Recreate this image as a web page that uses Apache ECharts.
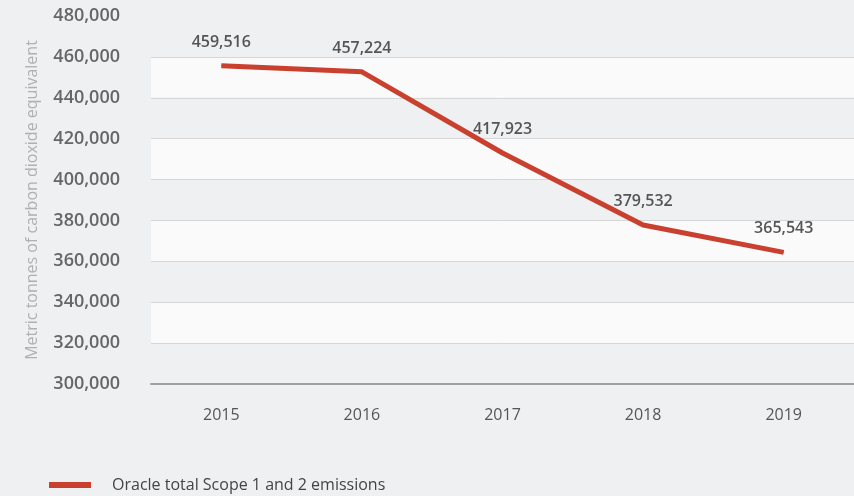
<!DOCTYPE html>
<html>
<head>
<meta charset="utf-8">
<script src="https://cdn.jsdelivr.net/npm/echarts@6/dist/echarts.min.js"></script>
<style>
  html, body { margin: 0; padding: 0; background: #eff0f2; }
  #chart { width: 854px; height: 496px; }
</style>
</head>
<body>
<div id="chart"></div>
<script>
// 年份
var years = ['2015', '2016', '2017', '2018', '2019'];
// 折线位置
var emissions = [455700, 452700, 413000, 377800, 364400];
// 数据标签文字
var labelTexts = ['459,516', '457,224', '417,923', '379,532', '365,543'];
var seriesName = 'Oracle total Scope 1 and 2 emissions';
var yName = 'Metric tonnes of carbon dioxide equivalent';

var font = '"Open Sans", "Noto Sans", sans-serif';
var red = '#c9402e';

var myChart = echarts.init(document.getElementById('chart'));
myChart.setOption({
    backgroundColor: '#eff0f2',
    animation: false,
    grid: { left: 151, right: -2, top: 16, bottom: 112 },
    legend: {
        left: 49,
        bottom: 3,
        padding: 0,
        itemWidth: 42,
        itemHeight: 6,
        icon: 'rect',
        data: [seriesName],
        textStyle: { fontFamily: font, fontSize: 16, color: '#444', padding: [0, 0, 0, 16] }
    },
    xAxis: {
        type: 'category',
        data: years,
        boundaryGap: true,
        axisLine: { lineStyle: { color: '#a0a0a0', width: 2 } },
        axisTick: { show: false },
        axisLabel: { fontFamily: font, fontSize: 16, color: '#555', margin: 23 }
    },
    yAxis: {
        type: 'value',
        min: 300000,
        max: 480000,
        interval: 20000,
        name: yName,
        nameLocation: 'middle',
        nameGap: 111,
        nameTextStyle: { fontFamily: font, fontSize: 16, color: '#b0b0b0' },
        axisLine: { show: false },
        axisTick: { show: false },
        axisLabel: {
            fontFamily: font, fontSize: 18, fontWeight: 600, color: '#666', margin: 31,
            formatter: function (v) { return v.toLocaleString('en-US'); }
        },
        splitLine: {
            lineStyle: {
                color: ['#d6d6d6', '#d6d6d6', '#d6d6d6', '#d6d6d6', '#d6d6d6',
                        '#d6d6d6', '#d6d6d6', '#d6d6d6', '#d6d6d6', 'rgba(0,0,0,0)'],
                width: 1
            }
        },
        splitArea: { show: true, areaStyle: { color: ['rgba(0,0,0,0)', '#fafafa'] } }
    },
    series: [{
        name: seriesName,
        type: 'line',
        data: emissions,
        symbol: 'circle',
        symbolSize: 1,
        showSymbol: true,
        lineStyle: { color: red, width: 5 },
        itemStyle: { color: red },
        label: {
            show: true,
            position: 'top',
            distance: 15,
            fontFamily: font,
            fontSize: 16,
            fontWeight: 600,
            color: '#555',
            formatter: function (p) { return labelTexts[p.dataIndex]; }
        }
    }]
});
</script>
</body>
</html>
